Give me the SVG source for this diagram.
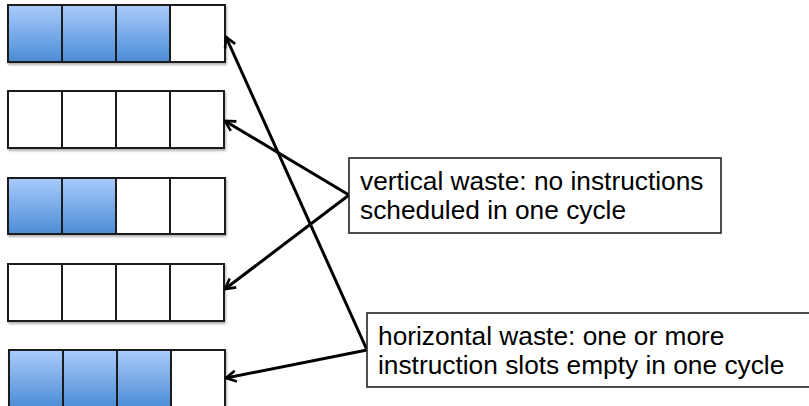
<svg xmlns="http://www.w3.org/2000/svg" width="809" height="406" viewBox="0 0 809 406">
<style>
.cell{stroke:#1c1c1c;stroke-width:2;}
.e{fill:#ffffff;}
.f{fill:url(#blue);}
.lbl{fill:#ffffff;stroke:#222222;stroke-width:1.6;}
.t{font-family:"Liberation Sans",Arial,sans-serif;font-size:26.3px;fill:#000000;}
.conn{stroke:#000000;stroke-width:3;fill:none;marker-end:url(#arr);}
</style>
<defs>
<linearGradient id="blue" x1="0" y1="0" x2="0" y2="1">
<stop offset="0" stop-color="#a9cbfc"/>
<stop offset="1" stop-color="#4b8cd5"/>
</linearGradient>
<filter id="sh" x="-5%" y="-5%" width="115%" height="120%">
<feDropShadow dx="1" dy="2" stdDeviation="1.2" flood-color="#000000" flood-opacity="0.3"/>
</filter>
<marker id="arr" viewBox="0 0 14 14" refX="12" refY="7" markerWidth="14" markerHeight="14" markerUnits="userSpaceOnUse" orient="auto">
<path d="M2,1.5 L12,7 L2,12.5" fill="none" stroke="#000000" stroke-width="2.6" stroke-linejoin="miter"/>
</marker>
</defs>
<g id="row1" filter="url(#sh)">
<rect class="cell f" x="8" y="5" width="54" height="57"/>
<rect class="cell f" x="62" y="5" width="54" height="57"/>
<rect class="cell f" x="116" y="5" width="54" height="57"/>
<rect class="cell e" x="170" y="5" width="55" height="57"/>
</g>
<g id="row2" filter="url(#sh)">
<rect class="cell e" x="8" y="91" width="54" height="57"/>
<rect class="cell e" x="62" y="91" width="54" height="57"/>
<rect class="cell e" x="116" y="91" width="54" height="57"/>
<rect class="cell e" x="170" y="91" width="54" height="57"/>
</g>
<g id="row3" filter="url(#sh)">
<rect class="cell f" x="8" y="178" width="54" height="56"/>
<rect class="cell f" x="62" y="178" width="54" height="56"/>
<rect class="cell e" x="116" y="178" width="54" height="56"/>
<rect class="cell e" x="170" y="178" width="55" height="56"/>
</g>
<g id="row4" filter="url(#sh)">
<rect class="cell e" x="8" y="264" width="54" height="57"/>
<rect class="cell e" x="62" y="264" width="54" height="57"/>
<rect class="cell e" x="116" y="264" width="54" height="57"/>
<rect class="cell e" x="170" y="264" width="54" height="57"/>
</g>
<g id="row5" filter="url(#sh)">
<rect class="cell f" x="9" y="350" width="54" height="58"/>
<rect class="cell f" x="63" y="350" width="54" height="58"/>
<rect class="cell f" x="117" y="350" width="54" height="58"/>
<rect class="cell e" x="171" y="350" width="54" height="58"/>
</g>
<g id="connectors">
<line class="conn" x1="367" y1="350" x2="226" y2="37"/>
<line class="conn" x1="367" y1="350" x2="226" y2="378"/>
<line class="conn" x1="349" y1="195" x2="225" y2="121"/>
<line class="conn" x1="349" y1="195" x2="225" y2="289"/>
</g>
<g id="vertical-waste">
<rect class="lbl" x="349" y="158" width="372" height="75"/>
<text class="t" x="360" y="190">vertical waste: no instructions</text>
<text class="t" x="360" y="219">scheduled in one cycle</text>
</g>
<g id="horizontal-waste">
<rect class="lbl" x="367" y="313" width="450" height="74"/>
<text class="t" x="378" y="345">horizontal waste: one or more</text>
<text class="t" x="378" y="374">instruction slots empty in one cycle</text>
</g>
</svg>
